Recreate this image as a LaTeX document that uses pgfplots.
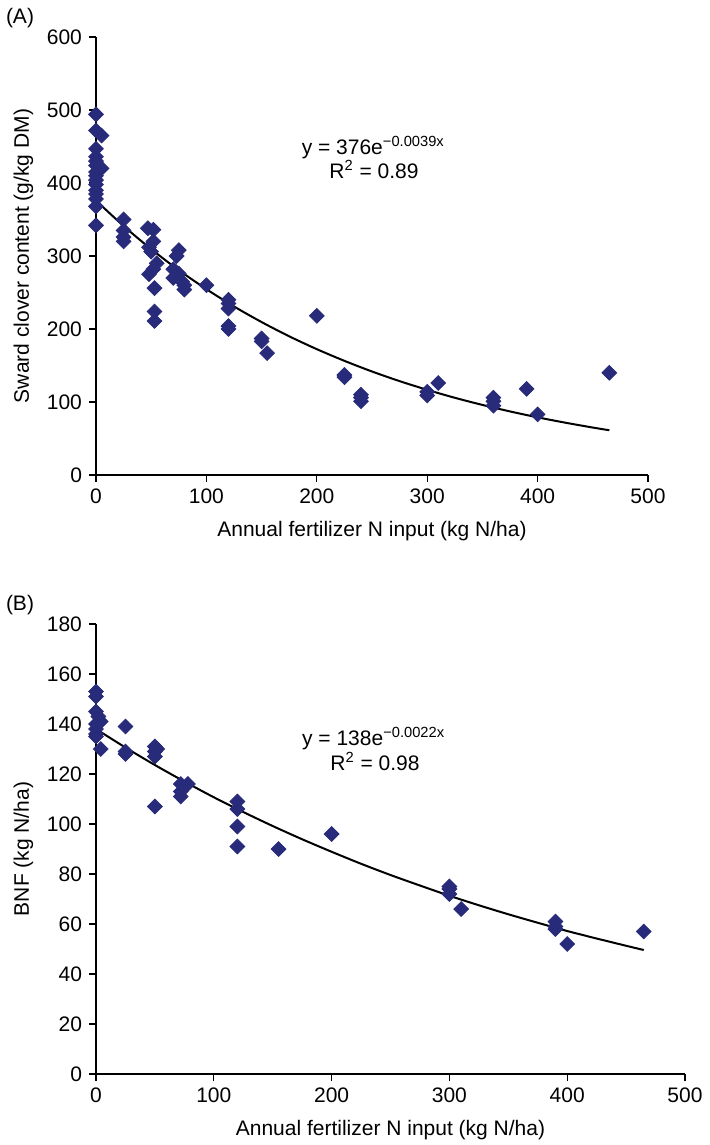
\documentclass[border=0pt]{standalone}
\usepackage{fontspec}
\setmainfont{Liberation Sans}
\usepackage{pgfplots}
\pgfplotsset{compat=1.18}
\definecolor{dmark}{RGB}{40,42,122}

\newcommand{\chartfont}{\fontsize{10.5}{12}\selectfont}

\pgfplotsset{
  panel/.style={
    scale only axis,
    axis x line=bottom, axis y line=left,
    axis line style={-, line width=0.6pt},
    tick style={black, line width=0.6pt},
    tick align=outside, major tick length=3.5pt,
    xmin=0, xmax=500, xtick={0,100,...,500},
    tick label style={font=\chartfont},
    label style={font=\chartfont},
    xlabel style={yshift=-2pt},
    /pgf/number format/assume math mode=true,
    clip=false,
  },
  dots/.style={only marks, mark=square*, mark size=2.6pt,
    mark options={rotate=45, fill=dmark, draw=dmark}},
  fitline/.style={black, line width=1pt, smooth, no markers},
}

\begin{document}
\begin{tikzpicture}
\useasboundingbox (0,0) rectangle (354.5pt,-572.5pt);
\node[font=\chartfont] at (10pt,-9pt) {(A)};
\node[font=\chartfont] at (10pt,-302.5pt) {(B)};

% (A) clover content
\begin{axis}[panel,
  at={(48pt,-237.5pt)}, anchor=south west,
  width=276pt, height=219pt,
  ymin=0, ymax=600, ytick={0,100,...,600},
  xlabel={Annual fertilizer N input (kg N/ha)},
  ylabel={Sward clover content (g/kg DM)},
]
\addplot[dots] coordinates {
  (0,494)(0,472)(5,465)(0,447)(0,436)(0,430)(0,424)(5,420)(0,415)(0,410)
  (0,404)(0,398)(0,390)(0,385)(0,378)(0,368)(0,342)
  (25,350)(25,335)(25,326)(25,320)
  (47,338)(52,336)(52,320)(48,312)(50,306)(55,290)(52,282)(48,275)
  (53,256)(53,224)(53,211)
  (75,308)(73,300)(70,282)(75,276)(70,270)(78,265)(80,260)(80,254)
  (100,260)
  (120,240)(120,235)(120,228)(120,204)(120,200)
  (150,187)(150,183)(155,167)
  (200,218)
  (225,137)(225,134)
  (240,110)(240,106)(240,101)
  (300,114)(300,109)(310,126)
  (360,106)(360,101)(360,95)
  (390,118)(400,83)(465,140)
};
% trend y = 376 exp(-0.0039x)
\addplot[fitline] coordinates {
  (0,376)(25,341.1)(50,309.4)(75,280.6)(100,254.6)(125,230.9)(150,209.5)
  (175,190.0)(200,172.4)(225,156.4)(250,141.8)(275,128.6)(300,116.7)
  (325,105.8)(350,96.0)(375,87.1)(400,79.0)(425,71.7)(450,65.0)(465,61.3)
};
\node[anchor=west, font=\chartfont] at (axis cs:180,448)
  {y = 376e\textsuperscript{−0.0039x}};
\node[anchor=west, font=\chartfont] at (axis cs:205,418)
  {R\textsuperscript{2} = 0.89};
\end{axis}

% (B) BNF
\begin{axis}[panel,
  at={(48pt,-537pt)}, anchor=south west,
  width=294.5pt, height=225pt,
  ymin=0, ymax=180, ytick={0,20,...,180},
  xlabel={Annual fertilizer N input (kg N/ha)},
  ylabel={BNF (kg N/ha)},
]
\addplot[dots] coordinates {
  (0,153)(0,151)(0,145)(2,143)(0,140)(0,138)(0,136)(0,135)(4,141)(4,130)
  (25,139)(25,129)(25,128)
  (50,131)(50,129)(50,127)(52,130)(50,107)
  (72,116)(72,113)(72,111)(78,116)
  (120,109)(120,106)(120,99)(120,91)
  (155,90)(200,96)
  (300,75)(300,74)(300,72)(310,66)
  (390,61)(390,59)(390,58)(400,52)(465,57)
};
% trend y = 138 exp(-0.0022x)
\addplot[fitline] coordinates {
  (0,138)(25,130.6)(50,123.6)(75,117.0)(100,110.7)(125,104.8)(150,99.2)
  (175,93.9)(200,88.9)(225,84.1)(250,79.6)(275,75.4)(300,71.3)(325,67.5)
  (350,63.9)(375,60.5)(400,57.2)(425,54.2)(450,51.3)(465,49.6)
};
\node[anchor=west, font=\chartfont] at (axis cs:169,134)
  {y = 138e\textsuperscript{−0.0022x}};
\node[anchor=west, font=\chartfont] at (axis cs:193,125)
  {R\textsuperscript{2} = 0.98};
\end{axis}
\end{tikzpicture}
\end{document}
